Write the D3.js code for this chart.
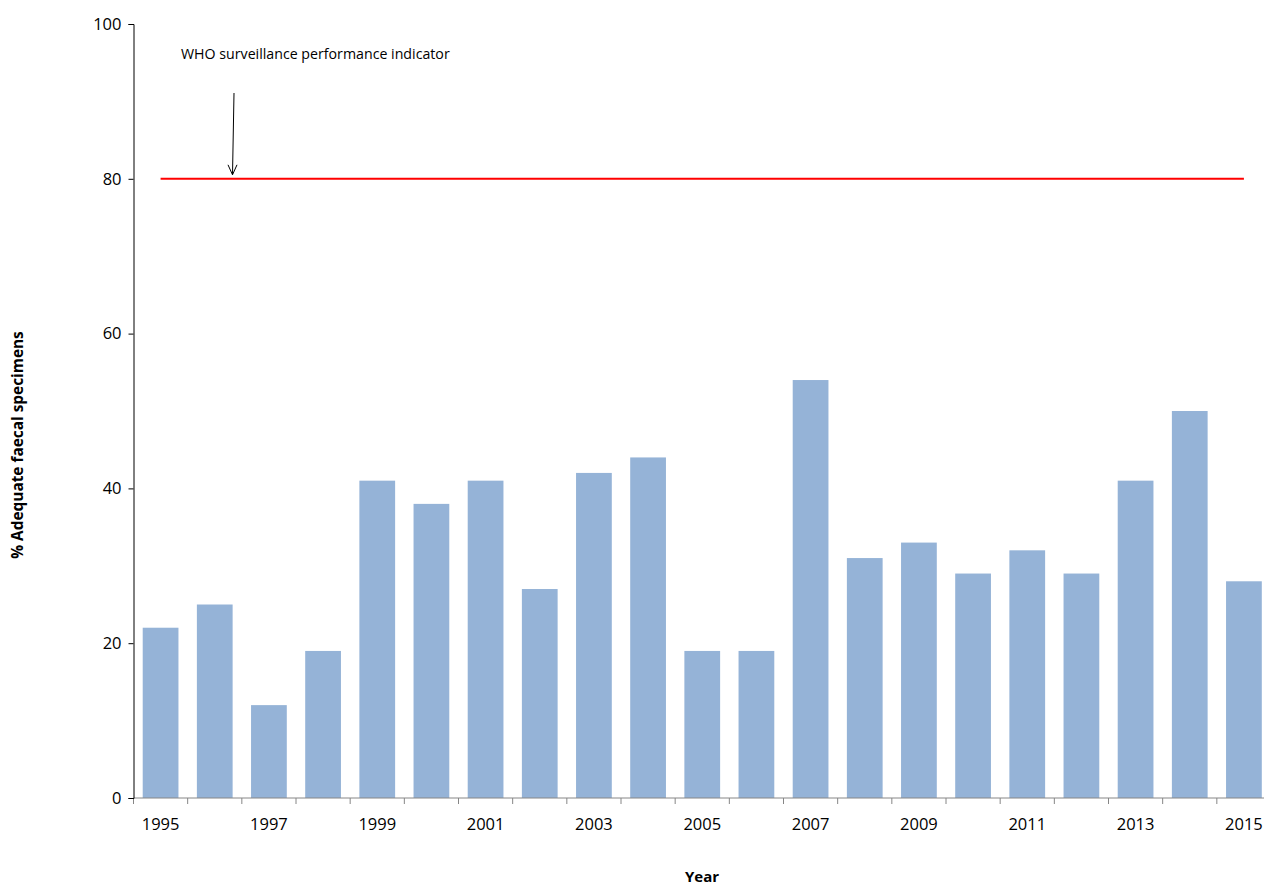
<!DOCTYPE html>
<html>
<head>
<meta charset="utf-8">
<script src="https://cdn.jsdelivr.net/npm/d3@7"></script>
<style>
  body { margin: 0; background: #fff; }
  svg { display: block; font-family: "Open Sans", sans-serif; }
</style>
</head>
<body>
<div id="chart"></div>
<script>
// Data
const years = ["1995","1996","1997","1998","1999","2000","2001","2002","2003","2004","2005",
               "2006","2007","2008","2009","2010","2011","2012","2013","2014","2015"];
const adequate = [22, 25, 12, 19, 41, 38, 41, 27, 42, 44, 19, 19, 54, 31, 33, 29, 32, 29, 41, 50, 28];
const yTicks = [0, 20, 40, 60, 80, 100];
const indicator = 80;
const indicatorLabel = "WHO surveillance performance indicator";

const width = 1264, height = 886;
// plot runs slightly past the right edge, as in the original
const plotLeft = 133.5, plotRight = 1271, plotTop = 24, plotBottom = 798;

const svg = d3.select("#chart").append("svg")
  .attr("width", width)
  .attr("height", height);

const x = d3.scaleBand()
  .domain(years)
  .range([plotLeft, plotRight])
  .paddingInner(0.34)
  .paddingOuter(0.17);

const y = d3.scaleLinear()
  .domain([0, 100])
  .range([plotBottom, plotTop]);

// bars
svg.append("g")
  .selectAll("rect")
  .data(years)
  .join("rect")
  .attr("x", d => x(d))
  .attr("width", x.bandwidth())
  .attr("y", (d, i) => y(adequate[i]))
  .attr("height", (d, i) => y(0) - y(adequate[i]))
  .attr("fill", "#95b3d7");

// x axis: ticks between categories, labels on odd years
const step = x.step();
const xAxis = svg.append("g").attr("transform", `translate(0,${plotBottom})`);
xAxis.append("line")
  .attr("x1", plotLeft).attr("x2", plotRight)
  .attr("stroke", "#868686");
xAxis.selectAll("line.tick")
  .data(d3.range(years.length + 1))
  .join("line")
  .attr("class", "tick")
  .attr("x1", i => plotLeft + i * step)
  .attr("x2", i => plotLeft + i * step)
  .attr("y1", 0).attr("y2", 6)
  .attr("stroke", "#868686");
xAxis.selectAll("text")
  .data(years.filter((d, i) => i % 2 === 0))
  .join("text")
  .attr("x", d => x(d) + x.bandwidth() / 2)
  .attr("y", 32)
  .attr("text-anchor", "middle")
  .attr("font-size", 16.5)
  .attr("fill", "#000")
  .text(d => d);

// y axis
svg.append("g")
  .attr("transform", `translate(${plotLeft},0)`)
  .call(d3.axisLeft(y).tickValues(yTicks).tickSize(5).tickPadding(7))
  .call(g => g.select(".domain").attr("stroke", "#000"))
  .call(g => g.selectAll(".tick line").attr("stroke", "#000"))
  .call(g => g.selectAll(".tick text")
    .attr("font-size", 16.5)
    .attr("font-family", "Open Sans, sans-serif")
    .attr("fill", "#000"));

// indicator line
svg.append("line")
  .attr("x1", x(years[0]) + x.bandwidth() / 2)
  .attr("x2", x(years[years.length - 1]) + x.bandwidth() / 2)
  .attr("y1", y(indicator))
  .attr("y2", y(indicator))
  .attr("stroke", "#ff0000")
  .attr("stroke-width", 2);

// annotation
svg.append("text")
  .attr("x", 181)
  .attr("y", 59)
  .attr("font-size", 14.2)
  .attr("fill", "#000")
  .text(indicatorLabel);

const ax = 234, ay1 = 93, ay2 = y(indicator) - 4;
svg.append("line")
  .attr("x1", ax).attr("x2", ax - 1.5)
  .attr("y1", ay1).attr("y2", ay2)
  .attr("stroke", "#000").attr("stroke-width", 1);
svg.append("path")
  .attr("d", `M${ax - 6},${ay2 - 10} L${ax - 1.5},${ay2} L${ax + 3},${ay2 - 10}`)
  .attr("fill", "none")
  .attr("stroke", "#000")
  .attr("stroke-width", 1);

// axis titles
svg.append("text")
  .attr("transform", `translate(23,445) rotate(-90)`)
  .attr("text-anchor", "middle")
  .attr("font-size", 15.4)
  .attr("font-weight", "bold")
  .text("% Adequate faecal specimens");

svg.append("text")
  .attr("x", 702)
  .attr("y", 882)
  .attr("text-anchor", "middle")
  .attr("font-size", 15)
  .attr("font-weight", "bold")
  .text("Year");
</script>
</body>
</html>
